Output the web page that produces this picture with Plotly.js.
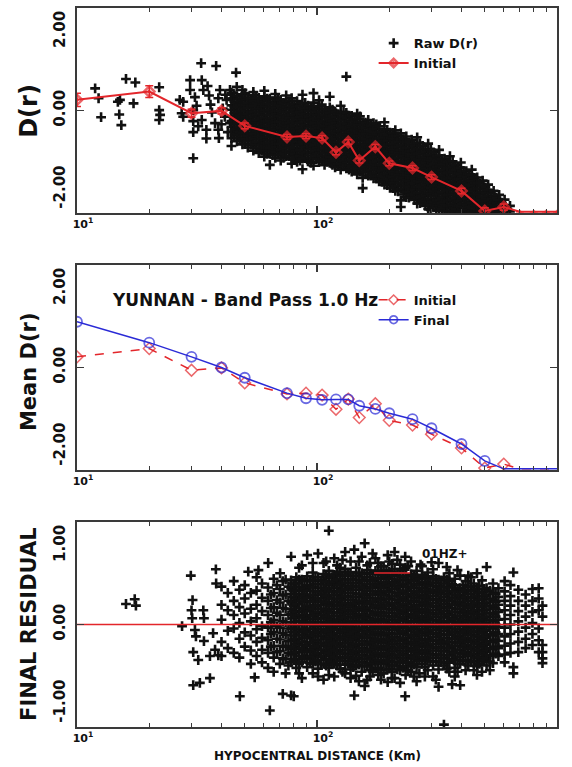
<!DOCTYPE html>
<html><head><meta charset="utf-8">
<script src="https://cdn.plot.ly/plotly-3.0.1.min.js"></script>
<style>html,body{margin:0;padding:0;background:#fff;}#chart{width:572px;height:767px;}</style>
</head><body><div id="chart"></div>
<script>
// ---- distances (km) of the binned curves ----
const binDist = [10, 20, 30, 40, 50, 75, 90, 105, 120, 135, 150, 175, 200, 250, 300, 400, 500, 600, 700, 800, 900, 1000];
// Initial D(r) (red), values at the bottom edge are off-scale
const initialD = [0.27, 0.48, -0.07, -0.01, -0.39, -0.67, -0.65, -0.70, -1.06, -0.80, -1.27, -0.92, -1.34, -1.46, -1.69, -2.04, -2.55, -2.45, -2.57, -2.57, -2.57, -2.57];
const initialErr = [0.17, 0.15, 0.10, 0.08, 0.07, 0.06, 0.06, 0.06, 0.06, 0.06, 0.06, 0.06, 0.06, 0.06, 0.06, 0.07, 0.08, 0.08, 0, 0, 0, 0];
// Final D(r) (blue)
const finalD = [1.16, 0.63, 0.27, 0.00, -0.26, -0.65, -0.78, -0.82, -0.81, -0.81, -0.97, -1.05, -1.16, -1.31, -1.54, -1.94, -2.37, -2.57, -2.57, -2.57, -2.57, -2.57];

// ---- Raw D(r): [distance, D values...] columns read from the cloud ----
const rawDrCols = [
 [11.9, 0.56], [12.3, 0.31], [12.6, -0.17], [14.8, 0.22], [15.1, 0.27], [15.0, -0.1], [15.3, -0.37], [16.0, 0.8], [17.5, 0.71], [17.2, 0.18],
 [22.0, 0.59, 0.01, -0.24], [22.2, -0.11], [26.8, 0.27], [27.3, -0.07], [27.7, 0.22, -0.16], [29.6, 0.77, 0.52], [30.5, 0.01, -0.27, -0.55, -1.21],
 [31, 0.34], [31.5, 0.12], [32, -0.4], [32.9, 1.2], [33.1, 0.77, -0.24], [33.6, 0.52], [34.6, -0.49, -0.71], [35, 0.62], [35.5, 0.38], [36, 0.15],
 [36.5, -0.05], [37.6, -0.32], [38.0, 1.13], [38.8, 0.31, -0.49], [39, -0.7], [39.4, 0.52], [40, -0.35], [40.5, 0.05], [41.3, -0.16], [41.5, 0.4],
 [42, 0.27], [42.5, -0.55], [43.4, 0.52, -0.32], [44.8, 0.31], [46, 0.96], [46.3, 0.6],
 [44, 0.45, 0.3, 0.13, 0.02, -0.14, -0.27, -0.42, -0.55, -0.7, -0.9],
 [45.2, 0.38, 0.23, 0.09, -0.06, -0.2, -0.34, -0.49, -0.63],
 [46.4, 0.36, 0.2, 0.08, -0.07, -0.2, -0.35, -0.48, -0.6, -0.78],
 [47.6, 0.3, 0.15, 0.0, -0.13, -0.28, -0.42, -0.55, -0.7],
 [48.9, 0.52, 0.41, 0.26, 0.14, -0.01, -0.16, -0.28, -0.44, -0.57, -0.72, -0.86],
 [50.2, 0.44, 0.28, 0.13, -0.02, -0.16, -0.3, -0.44, -0.58, -0.72, -0.85],
 [51.5, 0.33, 0.19, 0.06, -0.09, -0.22, -0.35, -0.5, -0.65, -0.78, -0.94],
 [52.9, 0.26, 0.12, -0.03, -0.16, -0.31, -0.44, -0.58, -0.72, -0.87],
 [54.3, 0.47, 0.39, 0.24, 0.11, -0.04, -0.17, -0.3, -0.45, -0.6, -0.73, -0.86, -1.02],
 [55.7, 0.32, 0.18, 0.03, -0.11, -0.24, -0.39, -0.53, -0.66, -0.8, -0.95],
 [57.2, 0.32, 0.17, 0.05, -0.1, -0.25, -0.38, -0.51, -0.66, -0.81, -0.94, -1.08],
 [58.7, 0.25, 0.1, -0.03, -0.18, -0.31, -0.45, -0.59, -0.73, -0.87, -1.01],
 [60.3, 0.5, 0.36, 0.23, 0.1, -0.05, -0.2, -0.33, -0.46, -0.61, -0.76, -0.89, -1.02, -1.17],
 [61.9, 0.3, 0.16, 0.02, -0.12, -0.26, -0.4, -0.54, -0.68, -0.82, -0.96, -1.1],
 [63.6, 0.3, 0.16, 0.01, -0.12, -0.27, -0.4, -0.53, -0.68, -0.83, -0.96, -1.1, -1.38],
 [65.3, 0.23, 0.08, -0.05, -0.2, -0.33, -0.47, -0.61, -0.75, -0.89, -1.03, -1.13],
 [67, 0.42, 0.33, 0.2, 0.07, -0.08, -0.23, -0.36, -0.49, -0.64, -0.79, -0.92, -1.05, -1.2],
 [68.8, 0.27, 0.13, -0.01, -0.15, -0.29, -0.43, -0.57, -0.71, -0.85, -0.99, -1.12],
 [70.6, 0.27, 0.12, -0.01, -0.14, -0.29, -0.44, -0.57, -0.7, -0.85, -1.0, -1.13, -1.27],
 [72.5, 0.19, 0.05, -0.1, -0.23, -0.37, -0.51, -0.65, -0.79, -0.93, -1.07, -1.2],
 [74.4, 0.38, 0.24, 0.09, -0.04, -0.17, -0.32, -0.47, -0.6, -0.73, -0.88, -1.03, -1.16],
 [76.4, 0.24, 0.1, -0.04, -0.18, -0.32, -0.46, -0.6, -0.74, -0.88, -1.02, -1.16],
 [78.4, 0.31, 0.17, 0.04, -0.11, -0.26, -0.39, -0.52, -0.67, -0.82, -0.95, -1.08, -1.23, -1.35],
 [80.5, 0.16, 0.02, -0.12, -0.26, -0.4, -0.54, -0.68, -0.82, -0.96, -1.1, -1.24],
 [82.6, 0.24, 0.1, -0.05, -0.18, -0.31, -0.46, -0.61, -0.74, -0.87, -1.02, -1.17, -1.3],
 [84.8, 0.11, -0.03, -0.17, -0.31, -0.45, -0.59, -0.73, -0.87, -1.01, -1.15, -1.27],
 [87, 0.4, 0.18, 0.03, -0.1, -0.23, -0.38, -0.53, -0.66, -0.79, -0.94, -1.09, -1.22, -1.49],
 [89.3, 0.19, 0.05, -0.09, -0.23, -0.37, -0.51, -0.65, -0.79, -0.93, -1.07, -1.21],
 [91.7, 0.12, -0.02, -0.17, -0.3, -0.43, -0.58, -0.73, -0.86, -0.99, -1.14, -1.29],
 [94.2, 0.06, -0.1, -0.24, -0.38, -0.51, -0.65, -0.79, -0.93, -1.07, -1.21, -1.33],
 [96.7, 0.44, 0.2, 0.06, -0.09, -0.22, -0.35, -0.5, -0.65, -0.78, -0.91, -1.06, -1.21, -1.4],
 [99.3, 0.03, -0.11, -0.25, -0.39, -0.53, -0.67, -0.81, -0.95, -1.09, -1.23],
 [102, 0.26, 0.1, -0.04, -0.19, -0.32, -0.45, -0.6, -0.75, -0.88, -1.01, -1.16, -1.31],
 [104.7, 0.15, -0.03, -0.17, -0.31, -0.45, -0.59, -0.73, -0.87, -1.01, -1.15, -1.29],
 [107.5, 0.03, -0.11, -0.26, -0.39, -0.52, -0.67, -0.82, -0.95, -1.08, -1.23, -1.38],
 [110.2, -0.04, -0.18, -0.32, -0.46, -0.6, -0.74, -0.88, -1.02, -1.16, -1.3],
 [113, 0.35, 0.08, -0.06, -0.21, -0.34, -0.47, -0.62, -0.77, -0.9, -1.03, -1.18, -1.33],
 [116, 0.02, -0.13, -0.27, -0.41, -0.55, -0.69, -0.83, -0.97, -1.11, -1.25, -1.38],
 [119, -0.03, -0.17, -0.32, -0.45, -0.58, -0.73, -0.88, -1.01, -1.14, -1.29, -1.44],
 [122.2, -0.09, -0.24, -0.38, -0.52, -0.66, -0.8, -0.94, -1.08, -1.22, -1.36],
 [125.5, 0.12, -0.1, -0.24, -0.39, -0.52, -0.65, -0.8, -0.95, -1.08, -1.21, -1.36, -1.5],
 [129, -0.03, -0.17, -0.31, -0.45, -0.59, -0.73, -0.87, -1.01, -1.15, -1.29, -1.42],
 [132.5, 0.86, -0.06, -0.2, -0.35, -0.48, -0.61, -0.76, -0.91, -1.04, -1.17, -1.32, -1.47],
 [136, -0.13, -0.27, -0.41, -0.55, -0.69, -0.83, -0.97, -1.11, -1.25, -1.39, -1.5],
 [139.5, -0.14, -0.28, -0.43, -0.56, -0.69, -0.84, -0.99, -1.12, -1.25, -1.4, -1.55],
 [143.2, -0.21, -0.35, -0.49, -0.63, -0.77, -0.91, -1.05, -1.19, -1.33, -1.47],
 [147, -0.08, -0.22, -0.36, -0.51, -0.64, -0.77, -0.92, -1.07, -1.2, -1.33, -1.48, -1.62],
 [151, -0.15, -0.29, -0.43, -0.57, -0.71, -0.85, -0.99, -1.13, -1.27, -1.41, -1.55],
 [155, -0.3, -0.44, -0.59, -0.72, -0.85, -1.0, -1.15, -1.28, -1.41, -1.56, -1.71, -1.97],
 [159.2, -0.31, -0.45, -0.59, -0.73, -0.87, -1.01, -1.15, -1.29, -1.43, -1.57],
 [163.5, -0.24, -0.38, -0.53, -0.66, -0.79, -0.94, -1.09, -1.22, -1.35, -1.5, -1.65],
 [167.7, -0.39, -0.53, -0.67, -0.81, -0.95, -1.09, -1.23, -1.37, -1.51, -1.65],
 [172, -0.32, -0.46, -0.61, -0.74, -0.87, -1.02, -1.17, -1.3, -1.43, -1.58, -1.72],
 [176.7, -0.35, -0.47, -0.61, -0.75, -0.89, -1.03, -1.17, -1.31, -1.45, -1.59, -1.73],
 [181.5, -0.4, -0.54, -0.69, -0.82, -0.95, -1.1, -1.25, -1.38, -1.51, -1.66, -1.8],
 [186.2, -0.55, -0.69, -0.83, -0.97, -1.11, -1.25, -1.39, -1.53, -1.67, -1.81],
 [191, -0.3, -0.48, -0.63, -0.76, -0.89, -1.04, -1.19, -1.32, -1.45, -1.6, -1.75, -1.88],
 [196.2, -0.49, -0.63, -0.77, -0.91, -1.05, -1.19, -1.33, -1.47, -1.61, -1.75, -1.89],
 [201.5, -0.56, -0.7, -0.85, -0.98, -1.11, -1.26, -1.41, -1.54, -1.67, -1.82, -1.96],
 [206.7, -0.57, -0.71, -0.85, -0.99, -1.13, -1.27, -1.41, -1.55, -1.69, -1.83, -1.97],
 [212, -0.5, -0.64, -0.79, -0.92, -1.05, -1.2, -1.35, -1.48, -1.61, -1.76, -1.91, -2.04],
 [217.7, -0.65, -0.79, -0.93, -1.07, -1.21, -1.35, -1.49, -1.63, -1.77, -1.91, -2.05],
 [223.5, -0.58, -0.72, -0.87, -1.0, -1.13, -1.28, -1.43, -1.56, -1.69, -1.84, -1.99, -2.28, -2.45],
 [229.5, -0.73, -0.87, -1.01, -1.15, -1.29, -1.43, -1.57, -1.71, -1.85, -1.99, -2.13],
 [235.5, -0.66, -0.8, -0.95, -1.08, -1.21, -1.36, -1.51, -1.64, -1.77, -1.92, -2.07, -2.2],
 [241.7, -0.81, -0.95, -1.09, -1.23, -1.37, -1.51, -1.65, -1.79, -1.93, -2.07, -2.21],
 [248, -0.74, -0.88, -1.03, -1.16, -1.29, -1.44, -1.59, -1.72, -1.85, -2.0, -2.14],
 [254.7, -0.89, -1.03, -1.17, -1.31, -1.45, -1.59, -1.73, -1.87, -2.01, -2.15, -2.27],
 [261.5, -0.68, -0.82, -0.97, -1.1, -1.23, -1.38, -1.53, -1.66, -1.79, -1.94, -2.09, -2.22, -2.36],
 [268.5, -0.83, -0.97, -1.11, -1.25, -1.39, -1.53, -1.67, -1.81, -1.95, -2.09, -2.23, -2.35],
 [275.5, -0.9, -1.04, -1.19, -1.32, -1.45, -1.6, -1.75, -1.88, -2.01, -2.16, -2.3],
 [283, -1.05, -1.19, -1.33, -1.47, -1.61, -1.75, -1.89, -2.03, -2.17, -2.31, -2.42],
 [290.5, -0.84, -0.98, -1.13, -1.26, -1.39, -1.54, -1.69, -1.82, -1.95, -2.1, -2.25, -2.38, -2.5],
 [298.2, -0.99, -1.13, -1.27, -1.41, -1.55, -1.69, -1.83, -1.97, -2.11, -2.25, -2.39, -2.52],
 [306, -1.06, -1.2, -1.35, -1.48, -1.61, -1.76, -1.91, -2.04, -2.17, -2.32, -2.46],
 [314.2, -1.15, -1.29, -1.43, -1.57, -1.71, -1.85, -1.99, -2.13, -2.27, -2.41, -2.53],
 [322.5, -1.0, -1.14, -1.29, -1.42, -1.55, -1.7, -1.85, -1.98, -2.11, -2.26, -2.41, -2.54],
 [331.2, -1.23, -1.37, -1.51, -1.65, -1.79, -1.93, -2.07, -2.21, -2.35, -2.49],
 [340, -1.22, -1.36, -1.51, -1.64, -1.77, -1.92, -2.07, -2.2, -2.33, -2.48],
 [349, -1.31, -1.45, -1.59, -1.73, -1.87, -2.01, -2.15, -2.29, -2.43, -2.56],
 [358, -1.16, -1.3, -1.45, -1.58, -1.71, -1.86, -2.01, -2.14, -2.27, -2.42, -2.56],
 [367.5, -1.29, -1.43, -1.57, -1.71, -1.85, -1.99, -2.13, -2.27, -2.41, -2.55],
 [377, -1.38, -1.52, -1.67, -1.8, -1.93, -2.08, -2.23, -2.36, -2.49],
 [387.2, -1.45, -1.59, -1.73, -1.87, -2.01, -2.15, -2.29, -2.43, -2.56],
 [397.5, -1.32, -1.46, -1.61, -1.74, -1.87, -2.02, -2.17, -2.3, -2.43, -2.57],
 [408.2, -1.53, -1.67, -1.81, -1.95, -2.09, -2.23, -2.37, -2.51],
 [419, -1.54, -1.68, -1.83, -1.96, -2.09, -2.24, -2.39, -2.52],
 [430.2, -1.61, -1.75, -1.89, -2.03, -2.17, -2.31, -2.45, -2.57],
 [441.5, -1.5, -1.64, -1.79, -1.92, -2.05, -2.2, -2.35, -2.48, -2.58],
 [453.2, -1.71, -1.85, -1.99, -2.13, -2.27, -2.41, -2.54],
 [465, -1.7, -1.84, -1.99, -2.12, -2.25, -2.4, -2.55],
 [477.5, -1.85, -1.99, -2.13, -2.27, -2.41, -2.55],
 [490, -1.78, -1.92, -2.07, -2.2, -2.33, -2.48, -2.58],
 [503, -1.95, -2.09, -2.23, -2.37, -2.51],
 [516.5, -1.88, -2.02, -2.17, -2.3, -2.43, -2.57],
 [530.5, -2.1, -2.24, -2.38, -2.52],
 [544.5, -2.04, -2.18, -2.33, -2.46, -2.58],
 [559, -2.21, -2.35, -2.49],
 [574, -2.14, -2.28, -2.43, -2.56],
 [589.5, -2.34, -2.48],
 [605, -2.26, -2.4, -2.54],
 [621, -2.5],
 [637, -2.42, -2.56]
];

// ---- Final residuals: [distance, residual values...] ----
const residualCols = [
 [16.0, 0.26], [17.4, 0.32], [17.6, 0.24], [27.4, -0.02], [29.8, 0.62], [30.0, 0.18], [30.2, 0.08], [30.3, 0.31], [30.5, -0.35, -0.77],
 [31.0, -0.07], [31.3, -0.15], [32.0, -0.45], [32.5, -0.74], [33.6, 0.18], [33.8, 0.08, -0.21], [35.8, -0.4, -0.68], [36.9, -0.11],
 [37.6, -0.32], [37.9, 0.7], [38.0, 0.52], [38.8, -0.39], [47.7, -0.91], [51.7, 0.67], [57, 0.69], [55, -0.67], [62.6, 0.78],
 [63.6, -1.09], [70.2, 0.65], [72, -0.88], [80, -0.91],
 [40, 0.48, 0.25, 0.06, -0.22, -0.4],
 [42.5, 0.4, 0.18, -0.08, -0.3],
 [45, 0.55, 0.3, 0.12, -0.05, -0.36],
 [47.5, 0.44, 0.22, 0.02, -0.18, -0.42],
 [50, 0.5, 0.33, 0.14, -0.1, -0.28],
 [53, 0.4, 0.2, 0.04, -0.14, -0.33, -0.5],
 [56, 0.6, 0.43, 0.25, 0.08, -0.06, -0.22, -0.4],
 [59, 0.52, 0.34, 0.17, -0.02, -0.17, -0.32, -0.48],
 [62.5, 0.47, 0.3, 0.12, -0.04, -0.2, -0.36, -0.55],
 [64.2, 0.38, 0.21, 0.03, -0.12, -0.28],
 [66, 0.58, 0.4, 0.22, 0.06, -0.1, -0.27, -0.42, -0.6],
 [68, 0.5, 0.31, 0.15, -0.02, -0.18, -0.35],
 [70, 0.45, 0.28, 0.12, -0.04, -0.19, -0.34, -0.5],
 [72, 0.55, 0.37, 0.21, 0.04, -0.11, -0.27, -0.43],
 [74, 0.57, 0.38, 0.2, 0.03, -0.13, -0.28, -0.44, -0.62],
 [76, 0.48, 0.3, 0.12, -0.05, -0.21, -0.36, -0.52],
 [78, 0.86, 0.56, 0.46, 0.39, 0.28, 0.2, 0.13, 0.03, -0.05, -0.14, -0.21, -0.31, -0.38, -0.48, -0.9],
 [80, 0.52, 0.43, 0.35, 0.24, 0.17, 0.08, -0.01, -0.1, -0.19, -0.28, -0.36, -0.45],
 [82, 0.6, 0.52, 0.43, 0.33, 0.26, 0.16, 0.09, -0.01, -0.09, -0.18, -0.25, -0.35, -0.44, -0.55],
 [84.2, 0.72, 0.57, 0.48, 0.39, 0.3, 0.21, 0.12, 0.04, -0.06, -0.14, -0.22, -0.31, -0.4, -0.5, -0.62],
 [86.5, 0.75, 0.57, 0.47, 0.38, 0.3, 0.21, 0.12, 0.04, -0.05, -0.13, -0.22, -0.3, -0.4, -0.48, -0.68],
 [88.7, 0.55, 0.45, 0.36, 0.28, 0.19, 0.1, 0.01, -0.08, -0.17, -0.26, -0.34, -0.43],
 [91, 0.88, 0.61, 0.5, 0.43, 0.34, 0.24, 0.17, 0.07, 0.0, -0.1, -0.17, -0.27, -0.35, -0.44, -0.54],
 [93.5, 0.57, 0.47, 0.38, 0.3, 0.21, 0.12, 0.03, -0.05, -0.14, -0.23, -0.32, -0.41, -0.49],
 [96, 0.78, 0.66, 0.55, 0.47, 0.37, 0.29, 0.2, 0.11, 0.03, -0.06, -0.14, -0.23, -0.31, -0.4, -0.5, -0.62],
 [98.5, 0.6, 0.51, 0.42, 0.33, 0.24, 0.15, 0.07, -0.02, -0.11, -0.2, -0.29, -0.38, -0.47],
 [101, 0.9, 0.6, 0.51, 0.42, 0.33, 0.25, 0.16, 0.08, -0.02, -0.1, -0.19, -0.27, -0.36, -0.45, -0.56, -0.66],
 [103.7, 0.56, 0.47, 0.38, 0.29, 0.2, 0.12, 0.03, -0.06, -0.15, -0.24, -0.32, -0.41, -0.5],
 [106.5, 0.78, 0.64, 0.55, 0.46, 0.38, 0.29, 0.2, 0.12, 0.03, -0.06, -0.14, -0.23, -0.32, -0.4, -0.5, -0.7],
 [109.2, 0.8, 0.63, 0.54, 0.45, 0.36, 0.27, 0.18, 0.1, 0.01, -0.08, -0.17, -0.26, -0.35, -0.44, -0.52],
 [112, 1.19, 0.68, 0.59, 0.5, 0.42, 0.33, 0.25, 0.16, 0.07, -0.01, -0.1, -0.18, -0.28, -0.36, -0.45, -0.55, -0.64],
 [115, 0.6, 0.51, 0.42, 0.33, 0.24, 0.15, 0.06, -0.03, -0.12, -0.21, -0.3, -0.39, -0.48],
 [118, 0.84, 0.63, 0.54, 0.46, 0.37, 0.28, 0.2, 0.11, 0.03, -0.06, -0.15, -0.23, -0.32, -0.41, -0.5, -0.66],
 [121.2, 0.75, 0.65, 0.56, 0.47, 0.38, 0.29, 0.2, 0.11, 0.02, -0.07, -0.16, -0.25, -0.34, -0.43, -0.52],
 [124.5, 0.72, 0.67, 0.58, 0.5, 0.41, 0.32, 0.24, 0.15, 0.06, -0.02, -0.11, -0.19, -0.28, -0.37, -0.46, -0.56],
 [127.7, 0.82, 0.62, 0.53, 0.44, 0.35, 0.26, 0.17, 0.08, -0.01, -0.1, -0.19, -0.28, -0.37, -0.46, -0.6],
 [131, 0.92, 0.7, 0.62, 0.53, 0.45, 0.36, 0.27, 0.19, 0.1, 0.02, -0.07, -0.16, -0.24, -0.33, -0.42, -0.51, -0.62],
 [134.5, 0.66, 0.57, 0.49, 0.4, 0.31, 0.22, 0.13, 0.04, -0.05, -0.14, -0.23, -0.32, -0.41, -0.5],
 [138, 0.8, 0.66, 0.57, 0.48, 0.4, 0.31, 0.23, 0.14, 0.05, -0.03, -0.12, -0.2, -0.29, -0.38, -0.47, -0.57, -0.68],
 [141.7, 0.62, 0.53, 0.44, 0.35, 0.26, 0.17, 0.09, 0.0, -0.09, -0.18, -0.27, -0.36, -0.45, -0.54],
 [143, 0.95, -0.9],
 [145.5, 0.72, 0.61, 0.52, 0.44, 0.35, 0.27, 0.18, 0.09, 0.01, -0.08, -0.16, -0.25, -0.34, -0.43, -0.52, -0.65],
 [149.5, 0.8, 0.66, 0.57, 0.48, 0.39, 0.3, 0.21, 0.12, 0.03, -0.06, -0.15, -0.24, -0.33, -0.42, -0.51, -0.72],
 [153.5, 0.86, 0.65, 0.56, 0.48, 0.39, 0.3, 0.22, 0.13, 0.05, -0.04, -0.12, -0.21, -0.3, -0.39, -0.48, -0.6],
 [157.7, 0.64, 0.55, 0.46, 0.37, 0.28, 0.19, 0.1, 0.01, -0.08, -0.17, -0.26, -0.35, -0.44, -0.53],
 [158, 1.03, -0.78],
 [162, 0.75, 0.69, 0.6, 0.51, 0.43, 0.34, 0.26, 0.17, 0.08, 0.0, -0.09, -0.17, -0.26, -0.35, -0.44, -0.53, -0.7],
 [166.2, 0.78, 0.65, 0.56, 0.47, 0.38, 0.29, 0.21, 0.12, 0.03, -0.05, -0.14, -0.23, -0.32, -0.41, -0.5, -0.58, -0.66],
 [170.5, 0.9, 0.64, 0.55, 0.47, 0.38, 0.29, 0.21, 0.12, 0.04, -0.05, -0.13, -0.22, -0.31, -0.4, -0.49, -0.6],
 [175.2, 0.84, 0.68, 0.59, 0.51, 0.42, 0.33, 0.24, 0.15, 0.07, -0.02, -0.11, -0.2, -0.29, -0.38, -0.47, -0.56],
 [180, 0.78, 0.68, 0.59, 0.5, 0.42, 0.33, 0.25, 0.16, 0.07, -0.01, -0.1, -0.18, -0.27, -0.36, -0.45, -0.55, -0.64],
 [184.7, 0.74, 0.66, 0.58, 0.49, 0.4, 0.31, 0.22, 0.14, 0.05, -0.04, -0.13, -0.22, -0.31, -0.4, -0.49, -0.58, -0.7],
 [189.5, 0.74, 0.63, 0.54, 0.46, 0.37, 0.28, 0.2, 0.11, 0.03, -0.06, -0.14, -0.23, -0.32, -0.41, -0.5, -0.62],
 [194.7, 0.69, 0.6, 0.51, 0.42, 0.33, 0.24, 0.15, 0.06, -0.03, -0.12, -0.21, -0.3, -0.39, -0.48, -0.57],
 [197, 0.88, -0.73],
 [200, 0.8, 0.67, 0.58, 0.49, 0.41, 0.32, 0.24, 0.15, 0.06, -0.02, -0.11, -0.19, -0.28, -0.37, -0.46, -0.56],
 [205.2, 0.77, 0.63, 0.54, 0.45, 0.36, 0.27, 0.19, 0.1, 0.01, -0.07, -0.16, -0.25, -0.34, -0.43, -0.52, -0.6, -0.68],
 [210.5, 0.92, 0.7, 0.62, 0.53, 0.45, 0.36, 0.27, 0.19, 0.1, 0.02, -0.07, -0.16, -0.24, -0.33, -0.42, -0.52, -0.68],
 [216.2, 0.82, 0.66, 0.57, 0.49, 0.4, 0.31, 0.22, 0.14, 0.05, -0.04, -0.12, -0.21, -0.3, -0.39, -0.48, -0.57],
 [222, 0.76, 0.65, 0.56, 0.48, 0.39, 0.3, 0.22, 0.13, 0.05, -0.04, -0.12, -0.21, -0.3, -0.39, -0.48, -0.58, -0.74],
 [228, 0.69, 0.6, 0.51, 0.42, 0.33, 0.24, 0.16, 0.07, -0.02, -0.1, -0.19, -0.28, -0.37, -0.46, -0.55],
 [233, 0.86, -0.91],
 [234, 0.72, 0.61, 0.52, 0.43, 0.35, 0.26, 0.18, 0.09, 0.0, -0.08, -0.17, -0.25, -0.34, -0.43, -0.53, -0.64],
 [240, 0.74, 0.57, 0.48, 0.39, 0.3, 0.22, 0.13, 0.04, -0.04, -0.13, -0.22, -0.3, -0.39, -0.48, -0.58],
 [246.5, 0.8, 0.64, 0.55, 0.47, 0.38, 0.3, 0.21, 0.12, 0.04, -0.05, -0.13, -0.22, -0.31, -0.4, -0.5, -0.6],
 [253, 0.63, 0.55, 0.46, 0.37, 0.29, 0.2, 0.11, 0.03, -0.06, -0.15, -0.23, -0.32, -0.41, -0.51, -0.66],
 [260, 0.68, 0.6, 0.51, 0.42, 0.34, 0.25, 0.17, 0.08, -0.01, -0.09, -0.18, -0.26, -0.35, -0.44, -0.54, -0.72],
 [267, 0.58, 0.5, 0.41, 0.33, 0.24, 0.15, 0.06, -0.02, -0.11, -0.2, -0.28, -0.37, -0.46, -0.62],
 [270, 0.76],
 [274, 0.74, 0.63, 0.54, 0.46, 0.37, 0.29, 0.2, 0.11, 0.03, -0.06, -0.14, -0.23, -0.32, -0.41, -0.5],
 [281.5, 0.6, 0.52, 0.43, 0.35, 0.26, 0.17, 0.08, 0.0, -0.09, -0.18, -0.26, -0.35, -0.44, -0.54, -0.66],
 [289, 0.66, 0.58, 0.5, 0.41, 0.32, 0.24, 0.15, 0.07, -0.02, -0.1, -0.19, -0.28, -0.37, -0.46, -0.58],
 [296.7, 0.57, 0.49, 0.4, 0.31, 0.23, 0.14, 0.05, -0.03, -0.12, -0.21, -0.29, -0.38, -0.47],
 [300, 0.79],
 [304.5, 0.7, 0.61, 0.53, 0.44, 0.36, 0.27, 0.18, 0.1, 0.01, -0.07, -0.16, -0.25, -0.33, -0.42, -0.52, -0.66],
 [312.7, 0.58, 0.49, 0.41, 0.32, 0.23, 0.14, 0.06, -0.03, -0.11, -0.2, -0.29, -0.38, -0.47, -0.7],
 [321, 0.78, 0.57, 0.48, 0.4, 0.31, 0.22, 0.14, 0.05, -0.03, -0.12, -0.2, -0.29, -0.38, -0.47, -0.57, -0.79],
 [329.5, 0.56, 0.47, 0.39, 0.3, 0.21, 0.13, 0.04, -0.04, -0.13, -0.22, -0.3, -0.39, -0.48],
 [338, 0.6, 0.52, 0.43, 0.35, 0.26, 0.17, 0.09, 0.0, -0.08, -0.17, -0.25, -0.34, -0.43, -0.52, -1.27],
 [347, 0.73, 0.57, 0.48, 0.39, 0.3, 0.22, 0.13, 0.04, -0.04, -0.13, -0.22, -0.3, -0.39, -0.48, -0.56],
 [356, 0.65, 0.55, 0.47, 0.38, 0.3, 0.21, 0.12, 0.04, -0.05, -0.13, -0.22, -0.3, -0.39, -0.48, -0.6],
 [365.5, 0.51, 0.42, 0.34, 0.25, 0.16, 0.08, -0.01, -0.09, -0.18, -0.27, -0.35, -0.44, -0.76],
 [375, 0.58, 0.5, 0.42, 0.33, 0.25, 0.16, 0.07, -0.01, -0.1, -0.18, -0.27, -0.36, -0.45, -0.55, -0.66],
 [385, 0.69, 0.45, 0.37, 0.28, 0.2, 0.11, 0.02, -0.06, -0.15, -0.23, -0.32, -0.41, -0.5, -0.6],
 [395, 0.62, 0.46, 0.37, 0.29, 0.2, 0.11, 0.03, -0.06, -0.14, -0.23, -0.32, -0.41, -0.5, -0.77],
 [405.5, 0.5, 0.41, 0.33, 0.24, 0.15, 0.06, -0.02, -0.11, -0.2, -0.28, -0.37, -0.46],
 [416, 0.55, 0.44, 0.35, 0.26, 0.17, 0.09, 0.0, -0.08, -0.17, -0.26, -0.35, -0.45, -0.58],
 [427, 0.62, 0.48, 0.39, 0.3, 0.21, 0.13, 0.04, -0.05, -0.13, -0.22, -0.31, -0.4, -0.52],
 [438, 0.6, 0.48, 0.39, 0.3, 0.22, 0.13, 0.04, -0.04, -0.13, -0.21, -0.3, -0.39, -0.48],
 [450, 0.52, 0.43, 0.34, 0.25, 0.16, 0.07, -0.02, -0.1, -0.19, -0.28, -0.37, -0.46, -0.58],
 [464, 0.65, 0.45, 0.36, 0.27, 0.18, 0.1, 0.01, -0.08, -0.16, -0.25, -0.34, -0.43, -0.53, -0.64],
 [474.5, 0.49, 0.4, 0.31, 0.22, 0.13, 0.04, -0.05, -0.14, -0.23, -0.32, -0.41, -0.5],
 [487, 0.56, 0.41, 0.32, 0.23, 0.14, 0.06, -0.03, -0.11, -0.2, -0.29, -0.38, -0.47, -0.6],
 [498, 0.45, 0.36, 0.27, 0.18, 0.09, 0.0, -0.08, -0.17, -0.26, -0.35, -0.45],
 [509, 0.73, 0.46, 0.37, 0.28, 0.19, 0.1, 0.02, -0.07, -0.15, -0.24, -0.33, -0.42, -0.52],
 [525, 0.43, 0.33, 0.24, 0.15, 0.06, -0.03, -0.12, -0.21, -0.3, -0.39, -0.47, -0.58],
 [541, 0.52, 0.4, 0.31, 0.22, 0.13, 0.04, -0.05, -0.14, -0.22, -0.31, -0.4, -0.49],
 [555, 0.39, 0.29, 0.2, 0.1, 0.0, -0.1, -0.19, -0.28, -0.37],
 [570, 0.46, 0.35, 0.25, 0.16, 0.06, -0.03, -0.12, -0.21, -0.3, -0.4],
 [605, 0.55, 0.42, 0.3, 0.18, 0.07, -0.04, -0.15, -0.27, -0.38, -0.48],
 [640, 0.5, 0.36, 0.24, 0.12, 0.0, -0.12, -0.24, -0.36],
 [658, 0.66, -0.54, -0.62],
 [690, 0.44, 0.3, 0.17, 0.04, -0.09, -0.22, -0.35],
 [740, 0.38, 0.24, 0.1, -0.04, -0.18, -0.3],
 [790, 0.45, 0.3, 0.16, 0.02, -0.12, -0.26],
 [839, 0.46, 0.33, 0.18, -0.05, -0.2, -0.35],
 [870, 0.24, 0.1, -0.26, -0.35, -0.43, -0.49]
];
const zeroLineDist = [10, 1000];
const zeroLineVal = [0, 0];

const xTickVals = [10, 100, 1000];
const xTickText = ['10<sup>1</sup>', '10<sup>2</sup>', '10<sup>3</sup>'];
const xMinorVals = [20, 30, 40, 50, 60, 70, 80, 90, 200, 300, 400, 500, 600, 700, 800, 900];
const dTickVals = [-2, 0, 2];
const dTickText = ['-2.00', '0.00', '2.00'];
const rTickVals = [-1, 0, 1];
const rTickText = ['-1.00', '0.00', '1.00'];

function flattenCols(cols) {
  const xs = [], ys = [];
  cols.forEach(function (c) { for (let i = 1; i < c.length; i++) { xs.push(c[0]); ys.push(c[i]); } });
  return { x: xs, y: ys };
}
const raw = flattenCols(rawDrCols);
const res = flattenCols(residualCols);

const RED = '#e3262b', BLUE = '#2a2ad6', INK = '#111111', FRAME = '#3a3a3a';
const F = 'DejaVu Sans';
const visibleSize = (arr, s) => arr.map(v => (v < -2.56 ? 0 : s));
const crossMarker = { symbol: 'cross-thin-open', size: 7, color: INK, line: { color: INK, width: 2.6 } };

const traces = [
  { x: raw.x, y: raw.y, xaxis: 'x', yaxis: 'y', type: 'scatter', mode: 'markers', name: 'Raw D(r)', legend: 'legend',
    marker: crossMarker },
  { x: binDist, y: initialD, xaxis: 'x', yaxis: 'y', type: 'scatter', mode: 'lines+markers', name: 'Initial', legend: 'legend',
    line: { color: RED, width: 2 },
    marker: { symbol: 'diamond-open-dot', size: visibleSize(initialD, 8), color: RED, line: { color: RED, width: 2.5 } },
    error_y: { type: 'data', array: initialErr, visible: true, color: RED, thickness: 1.5, width: 4 } },
  { x: binDist, y: initialD, xaxis: 'x2', yaxis: 'y2', type: 'scatter', mode: 'lines+markers', name: 'Initial', legend: 'legend2',
    line: { color: RED, width: 1.5, dash: 'dash' },
    marker: { symbol: 'diamond-open', size: visibleSize(initialD, 9), color: RED, line: { color: RED, width: 1.5 } } },
  { x: binDist, y: finalD, xaxis: 'x2', yaxis: 'y2', type: 'scatter', mode: 'lines+markers', name: 'Final', legend: 'legend2',
    line: { color: BLUE, width: 1.5 },
    marker: { symbol: 'circle-open', size: visibleSize(finalD, 10), color: BLUE, line: { color: BLUE, width: 1.8 } } },
  { x: res.x, y: res.y, xaxis: 'x3', yaxis: 'y3', type: 'scatter', mode: 'markers', showlegend: false,
    marker: crossMarker },
  { x: zeroLineDist, y: zeroLineVal, xaxis: 'x3', yaxis: 'y3', type: 'scatter', mode: 'lines', showlegend: false,
    line: { color: RED, width: 1.5 } }
];

function xAxis(anchor) {
  return { type: 'log', range: [1, 3], domain: [0, 1], anchor: anchor,
    showline: true, mirror: 'allticks', linecolor: FRAME, linewidth: 1.6,
    ticks: 'inside', ticklen: 7, tickwidth: 1.2, tickcolor: FRAME,
    tickmode: 'array', tickvals: xTickVals, ticktext: xTickText, ticklabelshift: 6,
    tickfont: { family: F, size: 11, color: INK, weight: 'bold' },
    minor: { tickmode: 'array', tickvals: xMinorVals, ticks: 'inside', ticklen: 4, tickwidth: 1, tickcolor: FRAME },
    showgrid: false, zeroline: false };
}
function yAxis(anchor, domain, range, vals, text) {
  return { domain: domain, anchor: anchor, range: range,
    showline: true, mirror: 'allticks', linecolor: FRAME, linewidth: 1.6,
    ticks: '', tickmode: 'array', tickvals: vals, ticktext: text, tickangle: -90, ticklabelstandoff: 4,
    tickfont: { family: F, size: 15, color: INK, weight: 'bold' },
    minor: { tickmode: 'array', tickvals: [0], ticks: 'inside', ticklen: 7, tickwidth: 1.2, tickcolor: FRAME },
    showgrid: false, zeroline: false };
}

const legendFont = { family: F, size: 13, color: INK, weight: 'bold' };
const layout = {
  width: 572, height: 767, paper_bgcolor: '#ffffff', plot_bgcolor: '#ffffff',
  margin: { l: 77, r: 15, t: 8, b: 40 },
  showlegend: true,
  xaxis: xAxis('y'), xaxis2: xAxis('y2'), xaxis3: xAxis('y3'),
  yaxis: yAxis('x', [0.7149, 1.0], [-2.6, 2.6], dTickVals, dTickText),
  yaxis2: yAxis('x2', [0.3574, 0.6426], [-2.6, 2.6], dTickVals, dTickText),
  yaxis3: yAxis('x3', [0, 0.2851], [-1.3, 1.3], rTickVals, rTickText),
  legend: { x: 0.618, y: 0.972, xanchor: 'left', yanchor: 'top', bgcolor: 'rgba(0,0,0,0)', font: legendFont, itemwidth: 30 },
  legend2: { x: 0.618, y: 0.615, xanchor: 'left', yanchor: 'top', bgcolor: 'rgba(0,0,0,0)', font: legendFont, itemwidth: 30 },
  annotations: [
    { text: 'D(r)', xref: 'paper', yref: 'paper', x: -0.1, y: 0.857, textangle: -90, showarrow: false,
      xanchor: 'center', yanchor: 'middle', font: { family: F, size: 24, color: INK, weight: 'bold' } },
    { text: 'Mean D(r)', xref: 'paper', yref: 'paper', x: -0.1, y: 0.4937, textangle: -90, showarrow: false,
      xanchor: 'center', yanchor: 'middle', font: { family: F, size: 21, color: INK, weight: 'bold' } },
    { text: 'FINAL RESIDUAL', xref: 'paper', yref: 'paper', x: -0.1, y: 0.1433, textangle: -90, showarrow: false,
      xanchor: 'center', yanchor: 'middle', font: { family: F, size: 21, color: INK, weight: 'bold' } },
    { text: 'YUNNAN - Band Pass 1.0 Hz', xref: 'paper', yref: 'paper', x: 0.069, y: 0.5939, showarrow: false,
      xanchor: 'left', yanchor: 'middle', font: { family: F, size: 17, color: INK, weight: 'bold' } },
    { text: '01HZ+', xref: 'paper', yref: 'paper', x: 0.7146, y: 0.2406, showarrow: false,
      xanchor: 'left', yanchor: 'middle', font: { family: F, size: 12, color: INK, weight: 'bold' } },
    { text: 'HYPOCENTRAL DISTANCE (Km)', xref: 'paper', yref: 'paper', x: 0.5, y: -0.0403, showarrow: false,
      xanchor: 'center', yanchor: 'middle', font: { family: F, size: 12, color: INK, weight: 'bold' } }
  ],
  shapes: [
    { type: 'line', xref: 'paper', yref: 'paper', x0: 0.619, x1: 0.694, y0: 0.2142, y1: 0.2142, line: { color: RED, width: 1.5 } }
  ]
};

Plotly.newPlot('chart', traces, layout, { displayModeBar: false, staticPlot: true });
</script></body></html>
